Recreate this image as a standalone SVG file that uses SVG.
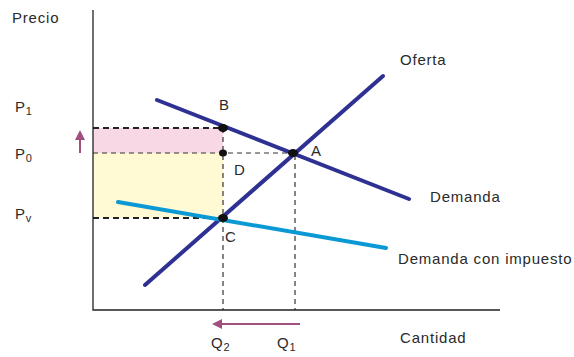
<svg xmlns="http://www.w3.org/2000/svg" width="574" height="357" viewBox="0 0 574 357">
<defs>
<style>
text{font-family:"Liberation Sans",Arial,sans-serif;font-size:15px;letter-spacing:0.8px;fill:#2a2a2a}
.sub{font-size:11px;letter-spacing:0}
.axis{stroke:#222;stroke-width:1.3;fill:none}
.thick{stroke:#222;stroke-width:2;stroke-dasharray:6 4;fill:none}
.thin{stroke:#333;stroke-width:1.2;stroke-dasharray:5 4;fill:none}
.dark{stroke:#2e3192;stroke-width:4;stroke-linecap:round;fill:none}
.light{stroke:#0a99d5;stroke-width:4;stroke-linecap:round;fill:none}
.arr{stroke:#a0507e;stroke-width:2;fill:none}
</style>
<marker id="ah" viewBox="0 0 10 10" refX="8" refY="5" markerWidth="5" markerHeight="5" orient="auto"><path d="M0,0 L10,5 L0,10 z" fill="#a0507e"/></marker>
</defs>
<rect width="574" height="357" fill="#fff"/>
<g id="areas">
<rect x="93" y="128" width="130" height="25" fill="#f9d8e6"/>
<rect x="93" y="153" width="130" height="65" fill="#fffad4"/>
</g>
<g id="connectors">
<path class="thick" d="M93,128 H223"/>
<path class="thick" d="M93,218 H223"/>
<path class="thin" d="M93,153 H293"/>
<path class="thin" d="M223,128 V310"/>
<path class="thin" d="M295,155 V310"/>
<path class="axis" d="M93,10 V310 H500"/>
<path class="dark" d="M157,100 L409,199"/>
<path class="dark" d="M145,285 L383,76"/>
<path class="light" d="M118,202 L386,248"/>
<path class="arr" d="M80,153 V132" marker-end="url(#ah)"/>
<path class="arr" d="M300,324 H214" marker-end="url(#ah)"/>
</g>
<g id="points" fill="#111">
<ellipse cx="223" cy="128" rx="5" ry="4"/>
<ellipse cx="223" cy="153" rx="4" ry="3.5"/>
<ellipse cx="293" cy="153" rx="5" ry="4"/>
<ellipse cx="223" cy="218" rx="5" ry="4"/>
</g>
<g id="labels">
<text x="12" y="23">Precio</text>
<text x="400" y="65">Oferta</text>
<text x="430" y="202">Demanda</text>
<text x="398" y="264">Demanda con impuesto</text>
<text x="400" y="343">Cantidad</text>
<text x="15" y="112">P<tspan class="sub" dy="3">1</tspan></text>
<text x="15" y="159">P<tspan class="sub" dy="3">0</tspan></text>
<text x="15" y="219">P<tspan class="sub" dy="3">v</tspan></text>
<text x="211" y="348">Q<tspan class="sub" dy="3">2</tspan></text>
<text x="277" y="348">Q<tspan class="sub" dy="3">1</tspan></text>
<text x="219" y="110">B</text>
<text x="311" y="156">A</text>
<text x="234" y="175">D</text>
<text x="225" y="242">C</text>
</g>
</svg>
